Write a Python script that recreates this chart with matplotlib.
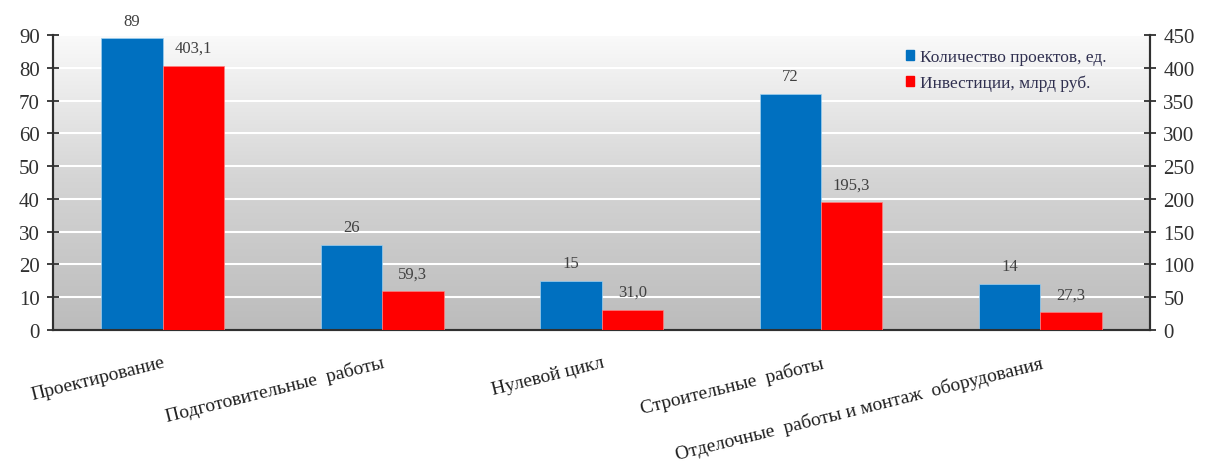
import numpy as np
import matplotlib.pyplot as plt
from matplotlib.ticker import MultipleLocator, FixedLocator

plt.rcParams['font.family'] = ['Liberation Serif', 'DejaVu Serif']

categories = ["Проектирование", "Подготовительные  работы", "Нулевой цикл",
              "Строительные  работы", "Отделочные  работы и монтаж  оборудования"]
projects = [89, 26, 15, 72, 14]
investments = [403.1, 59.3, 31.0, 195.3, 27.3]
series_names = ["Количество проектов, ед.", "Инвестиции, млрд руб."]

blue = "#0070C0"
red = "#FF0000"

fig = plt.figure(figsize=(12.13, 4.64), dpi=100)
ax = fig.add_axes([0.0437, 0.2866, 0.9044, 0.6358])
ax2 = ax.twinx()

x = np.arange(len(categories))
w = 0.28

# gradient background (gray at bottom, white at top)
grad = np.linspace(0, 1, 256).reshape(-1, 1)
ax.imshow(grad, extent=[0, 1, 0, 1], transform=ax.transAxes, aspect='auto',
          origin='lower',
          cmap=plt.matplotlib.colors.LinearSegmentedColormap.from_list(
              "bg", ["#bcbcbc", "#d4d4d4", "#fafafa"]), zorder=0)

ax.set_xlim(-0.5, len(categories) - 0.5)
ax.set_ylim(0, 90)
ax2.set_ylim(0, 450)
ax.yaxis.set_major_locator(MultipleLocator(10))
ax2.yaxis.set_major_locator(MultipleLocator(50))
ax.grid(axis='y', color='white', linewidth=1.5, zorder=1)
ax.set_axisbelow(True)

b1 = ax.bar(x - w / 2, projects, w, color=blue, edgecolor='#9fd0f0', linewidth=0.5, zorder=3)
b2 = ax2.bar(x + w / 2, investments, w, color=red, edgecolor='#ff8080', linewidth=0.5, zorder=3)

for r, v in zip(b1, projects):
    ax.annotate(str(v), (r.get_x() + r.get_width() / 2, v), xytext=(0, 7),
                textcoords='offset points', ha='center', va='bottom',
                fontsize=12, color='#404040')
for r, v in zip(b2, investments):
    ax2.annotate(f"{v:.1f}".replace('.', ','), (r.get_x() + r.get_width() / 2, v),
                 xytext=(0, 7), textcoords='offset points', ha='center',
                 va='bottom', fontsize=12, color='#404040')

for a in (ax, ax2):
    a.patch.set_visible(False)
    a.spines['top'].set_visible(False)
    for s in ('left', 'right', 'bottom'):
        a.spines[s].set_color('#303030')
        a.spines[s].set_linewidth(1.5)
ax.tick_params(axis='y', direction='inout', length=9, width=1.3, labelsize=15,
               colors='#303030', pad=5)
ax2.tick_params(axis='y', direction='inout', length=9, width=1.3, labelsize=15,
                colors='#303030', pad=5)

# category ticks at boundaries, labels placed by hand
ax.xaxis.set_major_locator(FixedLocator(np.arange(-0.5, len(categories), 1.0)))
ax.set_xticklabels([])
ax.tick_params(axis='x', direction='inout', length=8, width=1.3, colors='#303030')
ax2.set_xticks([])

for xi, name in zip(x, categories):
    ax.annotate(name, (xi, 0), xytext=(0, -17), textcoords='offset points',
                ha='right', va='top', rotation=14, rotation_mode='anchor',
                fontsize=14, color='#202020', annotation_clip=False)

handles = [plt.Rectangle((0, 0), 1, 1, color=blue), plt.Rectangle((0, 0), 1, 1, color=red)]
ax2.legend(handles, series_names, loc='upper right', bbox_to_anchor=(0.975, 1.005),
           frameon=False, fontsize=12.5, handlelength=0.45, handleheight=0.45,
           handletextpad=0.4, labelspacing=0.55, labelcolor='#303050')

fig.savefig("out.png", dpi=100)
